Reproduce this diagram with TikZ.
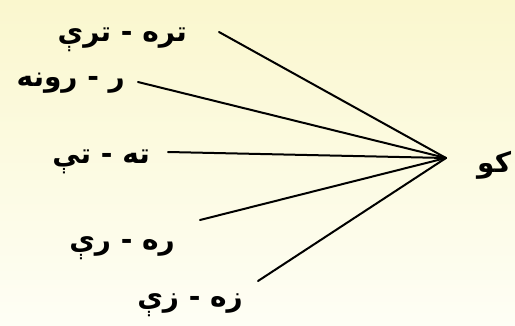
\documentclass[tikz,border=0pt]{standalone}
\usepackage{fontspec}
\newfontfamily\arabicfont[Script=Arabic]{DejaVu Sans}
\TeXXeTstate=1
\usepackage{tikz}
\usetikzlibrary{calc}

\tikzset{
  word/.style={font=\arabicfont\bfseries\fontsize{28}{32}\selectfont, inner sep=0pt, anchor=east},
  spoke/.style={line width=2pt, line cap=round}
}

\begin{document}
\begin{tikzpicture}[x=1pt,y=-1pt]

% Background
\shade[top color={rgb,255:red,250;green,247;blue,206}, bottom color={rgb,255:red,254;green,254;blue,245}] (0,0) rectangle (515,325);
\useasboundingbox (0,0) rectangle (515,325);

% Hub
\coordinate (hub) at (446,158);

% Labels
\node[word] (w1) at (187,40) {\beginR تره - ترې\endR};
\node[word] (w2) at (125,83) {\beginR ر - رونه\endR};
\node[word] (w3) at (150,162) {\beginR ته - تې\endR};
\node[word] (w4) at (175,248) {\beginR ره - رې\endR};
\node[word] (w5) at (243,305) {\beginR زه - زې\endR};
\node[word, anchor=west] (ko) at (477,165) {\beginR كو\endR};

% Spokes
\draw[spoke] ([xshift=32pt,yshift=8pt]w1.east) -- (hub);
\draw[spoke] ([xshift=13pt,yshift=1pt]w2.east) -- (hub);
\draw[spoke] ([xshift=18pt,yshift=10pt]w3.east) -- (hub);
\draw[spoke] ([xshift=25pt,yshift=28pt]w4.east) -- (hub);
\draw[spoke] ([xshift=15pt,yshift=24pt]w5.east) -- (hub);

\end{tikzpicture}
\end{document}
